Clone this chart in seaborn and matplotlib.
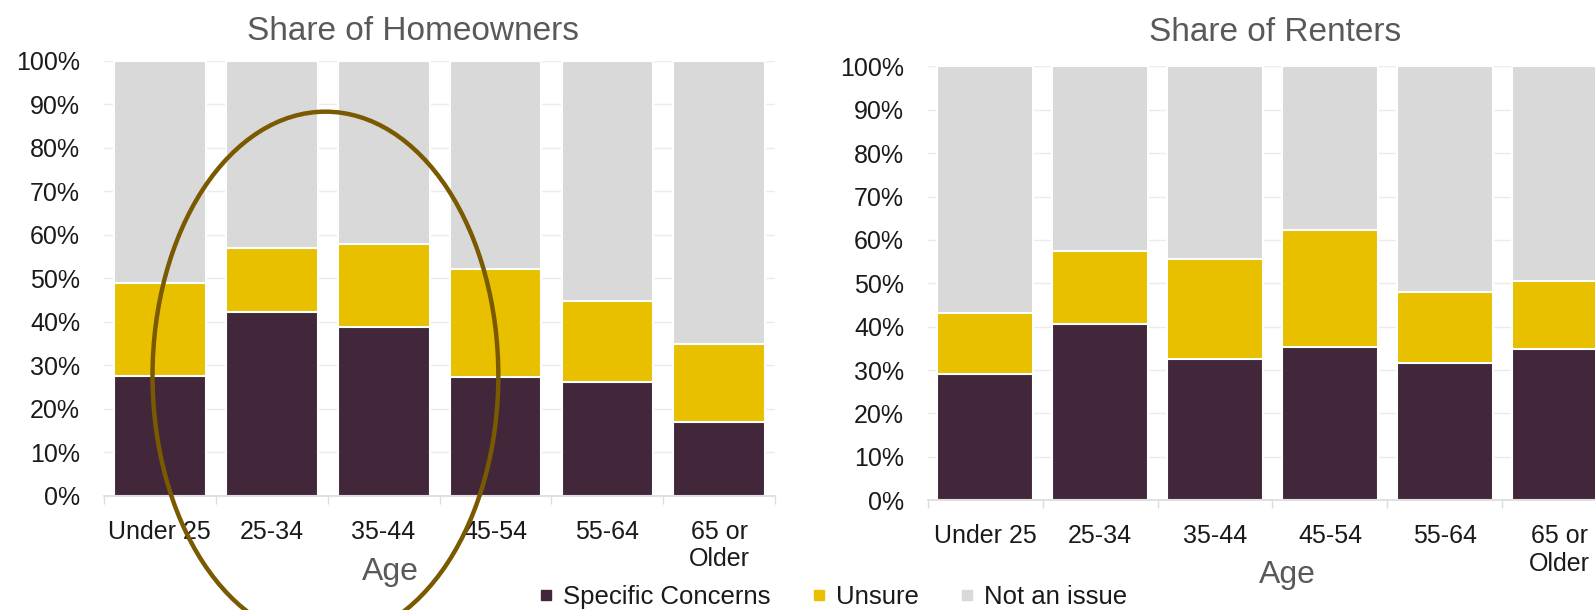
import matplotlib.pyplot as plt
import seaborn as sns
import pandas as pd
from matplotlib.patches import Ellipse
from matplotlib.lines import Line2D
from matplotlib.ticker import PercentFormatter, MultipleLocator, FixedLocator

# Data (percent of each age group)
ages = ["Under 25", "25-34", "35-44", "45-54", "55-64", "65 or\nOlder"]
owner_concerns = [27.6, 42.4, 38.8, 27.3, 26.1, 16.9]
owner_unsure = [21.3, 14.5, 19.1, 24.9, 18.8, 18.0]
renter_concerns = [29.1, 40.6, 32.6, 35.3, 31.7, 34.9]
renter_unsure = [14.0, 16.8, 23.0, 27.1, 16.3, 15.7]
series = ["Specific Concerns", "Unsure", "Not an issue"]

colors = {"Specific Concerns": "#42273a", "Unsure": "#e8c000", "Not an issue": "#d9d9d9"}

sns.set_theme(style="white")
plt.rcParams["font.family"] = ["Liberation Sans", "DejaVu Sans"]

fig = plt.figure(figsize=(15.95, 6.1), dpi=100)
ax_own = fig.add_axes([0.0651, 0.187, 0.421, 0.713])
ax_rent = fig.add_axes([0.5816, 0.180, 0.4324, 0.711])


def stacked(ax, concerns, unsure, title, width, title_x, title_pad, age_xy):
    df = pd.DataFrame({"age": ages, "concerns": concerns, "unsure": unsure})
    df["not_issue"] = 100 - df["concerns"] - df["unsure"]
    df["top_unsure"] = df["concerns"] + df["unsure"]
    df["top_all"] = df["top_unsure"] + df["not_issue"]
    # draw from the top layer down so each segment shows
    for col, name in [("top_all", "Not an issue"), ("top_unsure", "Unsure"), ("concerns", "Specific Concerns")]:
        sns.barplot(data=df, x="age", y=col, order=ages, color=colors[name], saturation=1,
                    width=width, edgecolor="white", linewidth=1.5, ax=ax, zorder=2)
    ax.set_ylim(0, 100)
    ax.set_xlim(-0.5, len(ages) - 0.5)
    ax.yaxis.set_major_locator(MultipleLocator(10))
    ax.yaxis.set_major_formatter(PercentFormatter(decimals=0))
    ax.grid(axis="y", color="#ebebeb", linewidth=1, zorder=0)
    ax.set_axisbelow(True)
    for s in ["top", "right", "left"]:
        ax.spines[s].set_visible(False)
    ax.spines["bottom"].set_color("#dcdcdc")
    ax.xaxis.set_minor_locator(FixedLocator([i - 0.5 for i in range(len(ages) + 1)]))
    ax.tick_params(axis="x", which="minor", length=6, color="#dcdcdc", bottom=True)
    ax.tick_params(axis="x", which="major", length=0, pad=17, labelsize=18, labelcolor="#1a1a1a")
    ax.tick_params(axis="y", length=0, pad=17, labelsize=18, labelcolor="#1a1a1a")
    ax.set_title(title, fontsize=24, color="#595959", x=title_x, pad=title_pad)
    ax.set_xlabel("Age", fontsize=23, color="#595959")
    ax.xaxis.label.set_va("baseline")
    ax.xaxis.set_label_coords(*age_xy)
    ax.set_ylabel("")


stacked(ax_own, owner_concerns, owner_unsure, "Share of Homeowners", 0.82, 0.461, 15, (0.4265, -0.193))
stacked(ax_rent, renter_concerns, renter_unsure, "Share of Renters", 0.83, 0.5036, 18.7, (0.521, -0.191))

# highlight circle around the 25-44 owners
ax_own.add_patch(Ellipse((1.48, 27.6), 3.09, 121.5, fill=False, edgecolor="#7a5a00",
                         linewidth=3.2, clip_on=False, zorder=5))

handles = [Line2D([], [], marker="s", linestyle="", markersize=7.5, color=colors[s]) for s in series]
fig.legend(handles, series, loc="center", bbox_to_anchor=(0.522, 0.022), ncol=3, frameon=False,
           fontsize=18.5, handlelength=0.6, handletextpad=0.37, columnspacing=1.57,
           labelcolor="#1a1a1a", borderpad=0, borderaxespad=0)

plt.savefig("out.png", dpi=100)
